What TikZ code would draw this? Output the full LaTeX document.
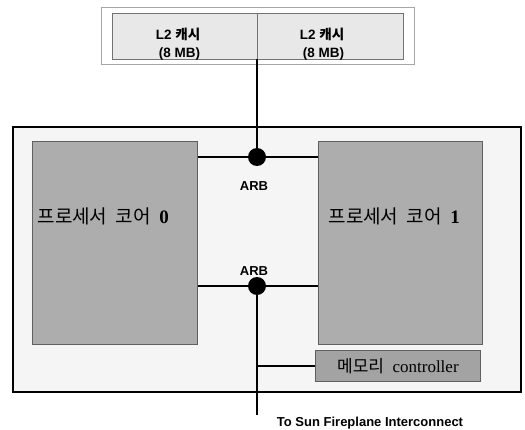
\documentclass[tikz,border=0pt]{standalone}
\usepackage{fontspec}
\setmainfont{Liberation Serif}
\setsansfont{Liberation Sans}
\newfontfamily\kr{Noto Sans CJK KR}
\begin{document}
\begin{tikzpicture}[x=1pt,y=-1pt,
  core/.style={draw=gray!75!black,fill=black!32,line width=0.8pt},
  memc/.style={draw=gray!75!black,fill=black!36,line width=0.8pt},
  bus/.style={line width=2.2pt,black},
  arbdot/.style={circle,fill=black,inner sep=0pt,minimum size=18pt},
  lbl/.style={font=\sffamily\bfseries\fontsize{13}{15}\selectfont},
  cachelbl/.style={font=\sffamily\bfseries\fontsize{13.5}{18}\selectfont,align=right},
  corelbl/.style={font=\kr\fontsize{19}{22}\selectfont,anchor=west}]
\useasboundingbox (0,0) rectangle (525,430);
% top cache
\draw[draw=black!35,fill=white,line width=0.8pt] (101,7) rectangle (414,64);
\draw[draw=black!55,fill=black!9,line width=0.8pt] (112,13) rectangle (403,59);
\draw[draw=black!55,line width=0.8pt] (257,13) -- (257,59);
\node[cachelbl] (c0) at (178,44) {L2 {\kr 캐시}\\(8 MB)};
\node[cachelbl] (c1) at (322,44) {L2 {\kr 캐시}\\(8 MB)};
\coordinate (ctop) at (257,59);
% chip
\draw[line width=1.8pt,fill=black!4] (13,127) rectangle (521,392);
\node[core,minimum width=165pt,minimum height=203pt,anchor=north west] (core0) at (32,141) {};
\node[core,minimum width=164pt,minimum height=203pt,anchor=north west] (core1) at (318,141) {};
\node[corelbl] (t0) at (34,216) {프로세서\ \ 코어\ \ {\rmfamily\bfseries 0}};
\node[corelbl] (t1) at (325,216) {프로세서\ \ 코어\ \ {\rmfamily\bfseries 1}};
\node[memc,minimum width=165pt,minimum height=31pt,anchor=north west,font=\fontsize{17}{19}\selectfont] (mc) at (315,350) {{\kr 메모리}\ \ controller};
% buses
\node[arbdot] (a1) at (257,157) {};
\node[arbdot] (a2) at (257,286) {};
\coordinate (bot) at (257,415);
\coordinate (mcj) at (257,366);
\draw[bus] (ctop) -- (a1);
\draw[bus] (a2) -- (bot);
\draw[bus] (core0.east |- a1) -- (core1.west |- a1);
\draw[bus] (core0.east |- a2) -- (core1.west |- a2);
\draw[bus] (mcj) -- (mc.west |- mcj);
\node[lbl] (arb1) at (254,186) {ARB};
\node[lbl] (arb2) at (254,271) {ARB};
\node[lbl] (out) at (370,423) {To Sun Fireplane Interconnect};
\end{tikzpicture}
\end{document}
